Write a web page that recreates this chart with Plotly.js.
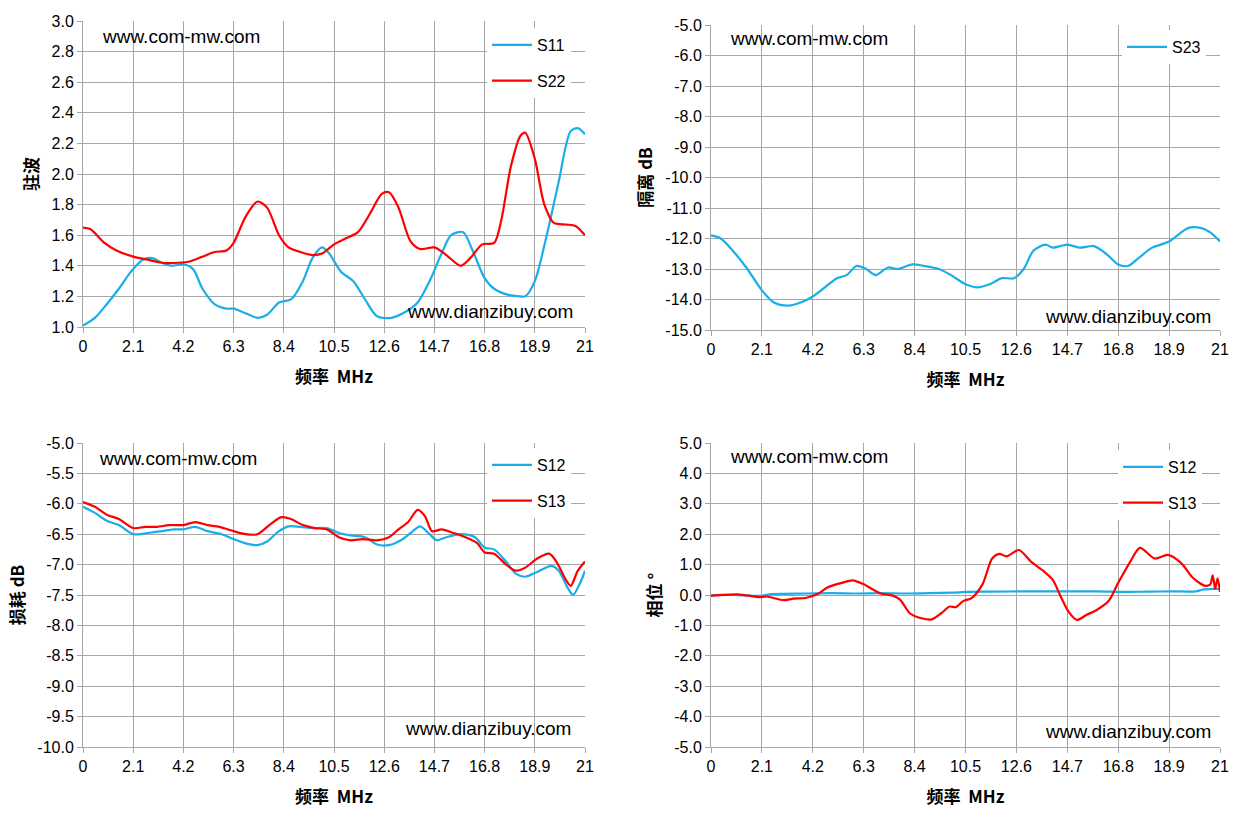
<!DOCTYPE html>
<html><head><meta charset="utf-8">
<script src="https://cdn.plot.ly/plotly-3.0.1.min.js"></script>
<style>body{margin:0;background:#fff}</style></head>
<body><div id="chart" style="width:1245px;height:833px"></div>
<script>
// VSWR
const s11X = [0,0.5,1,1.5,2,2.5,2.9,3.3,3.7,4.2,4.6,5.0,5.5,6.0,6.3,6.8,7.3,7.7,8.2,8.7,9.2,9.6,10.0,10.3,10.8,11.3,11.8,12.3,12.9,13.5,14.0,14.5,15.0,15.4,15.9,16.3,16.8,17.2,17.8,18.3,18.5,18.9,19.4,19.9,20.4,20.7,21];
const s11Y = [1.01,1.06,1.15,1.25,1.36,1.44,1.45,1.42,1.40,1.41,1.38,1.25,1.15,1.12,1.12,1.09,1.06,1.08,1.16,1.18,1.30,1.45,1.52,1.48,1.36,1.30,1.18,1.07,1.06,1.10,1.16,1.30,1.48,1.60,1.62,1.50,1.32,1.25,1.21,1.20,1.20,1.30,1.60,1.95,2.28,2.30,2.26];
const s22X = [0,0.3,0.9,1.4,2.1,2.7,3.3,4.0,4.5,5.0,5.5,6.0,6.3,6.8,7.3,7.7,8.2,8.6,9.1,9.6,10.0,10.5,11.0,11.5,12.0,12.5,12.8,13.2,13.7,14.1,14.7,15.2,15.8,16.2,16.7,17.2,17.5,17.9,18.3,18.5,18.9,19.3,19.7,20.2,20.6,21];
const s22Y = [1.65,1.64,1.55,1.50,1.46,1.44,1.42,1.42,1.43,1.46,1.49,1.50,1.55,1.72,1.82,1.78,1.60,1.52,1.49,1.47,1.48,1.54,1.58,1.62,1.74,1.87,1.88,1.78,1.56,1.51,1.52,1.47,1.40,1.45,1.54,1.55,1.70,2.05,2.25,2.27,2.10,1.80,1.68,1.67,1.66,1.60];
// isolation
const s23X = [0,0.4,0.9,1.5,2.1,2.6,3.2,3.7,4.2,4.7,5.2,5.6,6.0,6.4,6.8,7.3,7.7,8.3,8.8,9.4,9.9,10.5,11.0,11.5,12.0,12.5,12.9,13.3,13.8,14.1,14.7,15.2,15.8,16.3,16.8,17.2,17.7,18.2,18.9,19.4,19.7,20.2,20.6,21];
const s23Y = [-11.9,-12.0,-12.4,-13.0,-13.7,-14.1,-14.2,-14.1,-13.9,-13.6,-13.3,-13.2,-12.9,-13.0,-13.2,-12.95,-13.0,-12.85,-12.9,-13.0,-13.2,-13.5,-13.6,-13.5,-13.3,-13.3,-13.0,-12.4,-12.2,-12.3,-12.2,-12.3,-12.25,-12.5,-12.85,-12.9,-12.6,-12.3,-12.1,-11.8,-11.65,-11.65,-11.8,-12.1];
// insertion loss
const lossS12X = [0,0.5,1,1.5,2.1,2.7,3.3,3.8,4.2,4.7,5.2,5.8,6.3,6.8,7.3,7.7,8.2,8.6,9.1,9.6,10.2,10.7,11.2,11.8,12.3,12.8,13.3,13.8,14.1,14.5,14.8,15.2,15.8,16.4,16.8,17.2,17.7,18.1,18.5,19.0,19.6,19.9,20.3,20.5,20.8,21];
const lossS12Y = [-6.05,-6.15,-6.28,-6.35,-6.5,-6.48,-6.45,-6.42,-6.42,-6.38,-6.45,-6.5,-6.58,-6.65,-6.68,-6.62,-6.45,-6.37,-6.38,-6.4,-6.4,-6.48,-6.52,-6.55,-6.67,-6.68,-6.6,-6.45,-6.37,-6.5,-6.6,-6.55,-6.5,-6.55,-6.72,-6.75,-6.95,-7.15,-7.2,-7.12,-7.02,-7.1,-7.4,-7.5,-7.3,-7.1];
const lossS13X = [0,0.5,1,1.5,2.1,2.6,3.1,3.6,4.2,4.7,5.2,5.7,6.3,6.8,7.3,7.8,8.3,8.7,9.2,9.7,10.2,10.7,11.2,11.7,12.3,12.8,13.2,13.6,14.0,14.3,14.6,15.0,15.5,16.0,16.5,16.8,17.2,17.7,18.1,18.5,19.0,19.5,19.8,20.2,20.4,20.7,21];
const lossS13Y = [-5.97,-6.05,-6.18,-6.25,-6.4,-6.38,-6.38,-6.35,-6.35,-6.3,-6.35,-6.38,-6.45,-6.5,-6.5,-6.35,-6.22,-6.25,-6.35,-6.4,-6.42,-6.55,-6.6,-6.58,-6.6,-6.55,-6.42,-6.3,-6.1,-6.2,-6.45,-6.42,-6.48,-6.55,-6.65,-6.8,-6.82,-7.0,-7.1,-7.05,-6.9,-6.82,-6.95,-7.25,-7.35,-7.1,-6.95];
// phase
const phS12X = [0,1,2,2.5,3,4,5,6,7,8,9,10,10.5,11.5,13,14.5,16,17,18,19,20,20.3,20.7,21];
const phS12Y = [0,0,-0.03,0.03,0.04,0.05,0.06,0.05,0.06,0.05,0.06,0.08,0.1,0.11,0.12,0.12,0.12,0.1,0.11,0.12,0.12,0.18,0.2,0.2];
const phS13X = [0,1.1,2.0,2.3,3.0,3.4,3.9,4.4,4.8,5.4,5.85,6.3,7.0,7.5,7.8,8.2,8.6,9.1,9.5,9.85,10.1,10.4,10.75,11.2,11.6,11.9,12.2,12.7,13.2,13.7,14.1,14.4,14.75,15.1,15.5,15.9,16.4,16.8,17.3,17.7,18.3,18.85,19.4,19.9,20.4,20.6,20.7,20.8,20.9,21];
const phS13Y = [-0.03,0.02,-0.07,-0.05,-0.17,-0.12,-0.1,0.03,0.25,0.4,0.48,0.35,0.05,-0.02,-0.15,-0.6,-0.75,-0.8,-0.6,-0.38,-0.4,-0.2,-0.1,0.35,1.2,1.35,1.27,1.48,1.1,0.8,0.5,0.0,-0.55,-0.82,-0.65,-0.5,-0.2,0.4,1.1,1.55,1.2,1.32,1.05,0.55,0.3,0.35,0.65,0.2,0.55,0.1];

const freqTicks = [0,2.1,4.2,6.3,8.4,10.5,12.6,14.7,16.8,18.9,21];
const vswrTicks = [1.0,1.2,1.4,1.6,1.8,2.0,2.2,2.4,2.6,2.8,3.0];
const isoTicks = [-15,-14,-13,-12,-11,-10,-9,-8,-7,-6,-5];
const lossTicks = [-10,-9.5,-9,-8.5,-8,-7.5,-7,-6.5,-6,-5.5,-5];
const phaseTicks = [-5,-4,-3,-2,-1,0,1,2,3,4,5];

const blue = '#1aaee8', red = '#ff0000';
const tickFont = {family:'Liberation Sans, Arial', size:16, color:'#000'};
const titleFont = {family:'Noto Sans CJK SC', size:17, color:'#000', weight:'bold'};

function xax(dom, anchor) {
  return {domain:dom, anchor:anchor, range:[0,21], tickvals:freqTicks, ticktext:freqTicks.map(String),
    showgrid:true, gridcolor:'#a6a6a6', gridwidth:1, zeroline:false, showline:true, linecolor:'#a6a6a6',
    ticks:'outside', ticklen:5, tickcolor:'#a6a6a6', tickfont:tickFont,
    title:{text:'频率  MHz', font:titleFont, standoff:16}};
}
function yax(dom, anchor, vals, t) {
  return {domain:dom, anchor:anchor, range:[vals[0], vals[vals.length-1]], tickvals:vals,
    ticktext:vals.map(v => v.toFixed(1)),
    showgrid:true, gridcolor:'#a6a6a6', zeroline:false, showline:true, linecolor:'#a6a6a6',
    ticks:'outside', ticklen:5, tickcolor:'#a6a6a6', tickfont:tickFont,
    title:{text:t, font:titleFont, standoff:8}};
}
function tr(x, y, name, color, xa, ya, lg) {
  return {x:x, y:y, name:name, mode:'lines', line:{color:color, width:2.2, shape:'spline', smoothing:0.8},
    xaxis:xa, yaxis:ya, legend:lg, legendgroup:lg + name};
}
const data = [
  tr(s11X, s11Y, 'S11', blue, 'x', 'y', 'legend'),
  tr(s22X, s22Y, 'S22', red, 'x', 'y', 'legend'),
  tr(s23X, s23Y, 'S23', blue, 'x2', 'y2', 'legend2'),
  tr(lossS12X, lossS12Y, 'S12', blue, 'x3', 'y3', 'legend3'),
  tr(lossS13X, lossS13Y, 'S13', red, 'x3', 'y3', 'legend3'),
  tr(phS12X, phS12Y, 'S12', blue, 'x4', 'y4', 'legend4'),
  tr(phS13X, phS13Y, 'S13', red, 'x4', 'y4', 'legend4'),
];
const legFont = {family:'Liberation Sans, Arial', size:16, color:'#000'};
function leg(x, y) {
  return {x:x, y:y, xanchor:'left', yanchor:'top', bgcolor:'#fff', font:legFont, tracegroupgap:12, itemwidth:40};
}
const domL = [83/1245, 585/1245], domR = [711/1245, 1220/1245];
const domT1 = [1-327/833, 1-21/833], domT2 = [1-330/833, 1-25/833], domB = [1-747/833, 1-443/833];
function ann(text, x, y, xref, yref, xanchor) {
  return {text:text, x:x, y:y, xref:xref, yref:yref, xanchor:xanchor, yanchor:'middle', showarrow:false,
    font:{family:'Liberation Sans, Arial', size:19, color:'#000'}};
}
const layout = {
  width:1245, height:833, margin:{l:0, r:0, t:0, b:0}, paper_bgcolor:'#fff', plot_bgcolor:'#fff',
  xaxis:xax(domL, 'y'), yaxis:yax(domT1, 'x', vswrTicks, '驻波'),
  xaxis2:xax(domR, 'y2'), yaxis2:yax(domT2, 'x2', isoTicks, '隔离 dB'),
  xaxis3:xax(domL, 'y3'), yaxis3:yax(domB, 'x3', lossTicks, '损耗 dB'),
  xaxis4:xax(domR, 'y4'), yaxis4:yax(domB, 'x4', phaseTicks, '相位 °'),
  legend:leg(487/1245, 1-28/833), legend2:leg(1122/1245, 1-30/833),
  legend3:leg(487/1245, 1-448/833), legend4:leg(1118/1245, 1-450/833),
  annotations:[
    ann('www.com-mw.com', 0.7, 2.9, 'x', 'y', 'left'),
    ann('www.dianzibuy.com', 20.6, 1.1, 'x', 'y', 'right'),
    ann('www.com-mw.com', 0.7, -5.45, 'x2', 'y2', 'left'),
    ann('www.dianzibuy.com', 20.7, -14.55, 'x2', 'y2', 'right'),
    ann('www.com-mw.com', 0.6, -5.25, 'x3', 'y3', 'left'),
    ann('www.dianzibuy.com', 20.5, -9.7, 'x3', 'y3', 'right'),
    ann('www.com-mw.com', 0.7, 4.55, 'x4', 'y4', 'left'),
    ann('www.dianzibuy.com', 20.7, -4.5, 'x4', 'y4', 'right'),
  ]
};
Plotly.newPlot('chart', data, layout, {displayModeBar:false});
</script></body></html>
